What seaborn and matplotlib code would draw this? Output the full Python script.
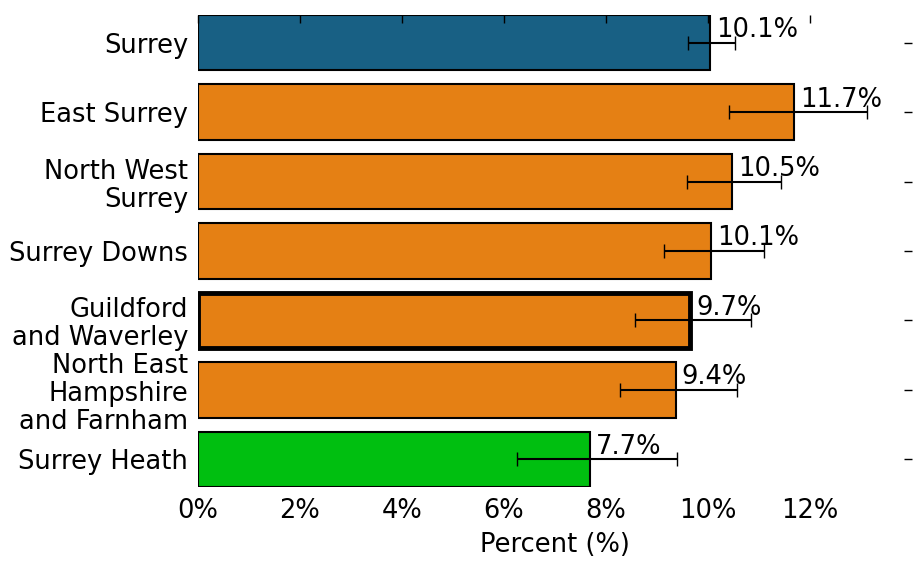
import seaborn as sns
import matplotlib.pyplot as plt
import pandas as pd
import numpy as np

# values
areas = ['Surrey', 'East Surrey', 'North West\nSurrey', 'Surrey Downs',
         'Guildford\nand Waverley', 'North East\nHampshire\nand Farnham', 'Surrey Heath']
percent = [10.05, 11.68, 10.47, 10.06, 9.65, 9.37, 7.69]
labels = ['10.1%', '11.7%', '10.5%', '10.1%', '9.7%', '9.4%', '7.7%']
lower = [9.61, 10.41, 9.59, 9.14, 8.57, 8.28, 6.25]
upper = [10.53, 13.13, 11.43, 11.11, 10.84, 10.57, 9.39]
colors = ['#186084', '#e58014', '#e58014', '#e58014', '#e58014', '#e58014', '#00bf10']
edge_widths = [1.5, 1.5, 1.5, 1.5, 3.5, 1.5, 1.5]

df = pd.DataFrame({'area': areas, 'percent': percent})

sns.set_style('white')
plt.rcParams['font.family'] = ['DejaVu Sans']
plt.rcParams['text.color'] = 'black'
plt.rcParams['xtick.color'] = 'black'
plt.rcParams['ytick.color'] = 'black'
plt.rcParams['axes.labelcolor'] = 'black'
fs = 18.5
fig, ax = plt.subplots(figsize=(9.21, 5.73), dpi=100)

sns.barplot(data=df, x='percent', y='area', hue='area', palette=colors,
            saturation=1, legend=False, width=0.8, ax=ax,
            edgecolor='black', linewidth=1.5)
for bar, lw in zip(ax.patches, edge_widths):
    bar.set_linewidth(lw)

ypos = np.arange(len(areas))
xerr = [np.array(percent) - np.array(lower), np.array(upper) - np.array(percent)]
ax.errorbar(percent, ypos, xerr=xerr, fmt='none', ecolor='black',
            elinewidth=1.5, capsize=5, capthick=1)

for y, x, lab in zip(ypos, percent, labels):
    ax.text(x + 0.12, y - 0.08, lab, fontsize=fs, ha='left', va='baseline')

ax.set_xlim(0, 14)
ax.set_ylim(6.4, -0.4)
ax.set_xticks(np.arange(0, 13, 2))
ax.set_xticklabels([f'{v}%' for v in range(0, 13, 2)])
ax.set_xlabel('Percent (%)', fontsize=fs, labelpad=6)
ax.set_ylabel('')
ax.set_axisbelow(False)
ax.tick_params(axis='both', labelsize=fs, direction='in', length=6,
               top=True, right=True, width=1)
ax.tick_params(axis='y', pad=7)
ax.tick_params(axis='x', pad=8)
for t in ax.get_yticklabels():
    t.set_linespacing(1.1)
for s in ax.spines.values():
    s.set_visible(False)

plt.subplots_adjust(left=0.215, right=0.99, top=0.974, bottom=0.15)
plt.savefig('out.png', dpi=100)
